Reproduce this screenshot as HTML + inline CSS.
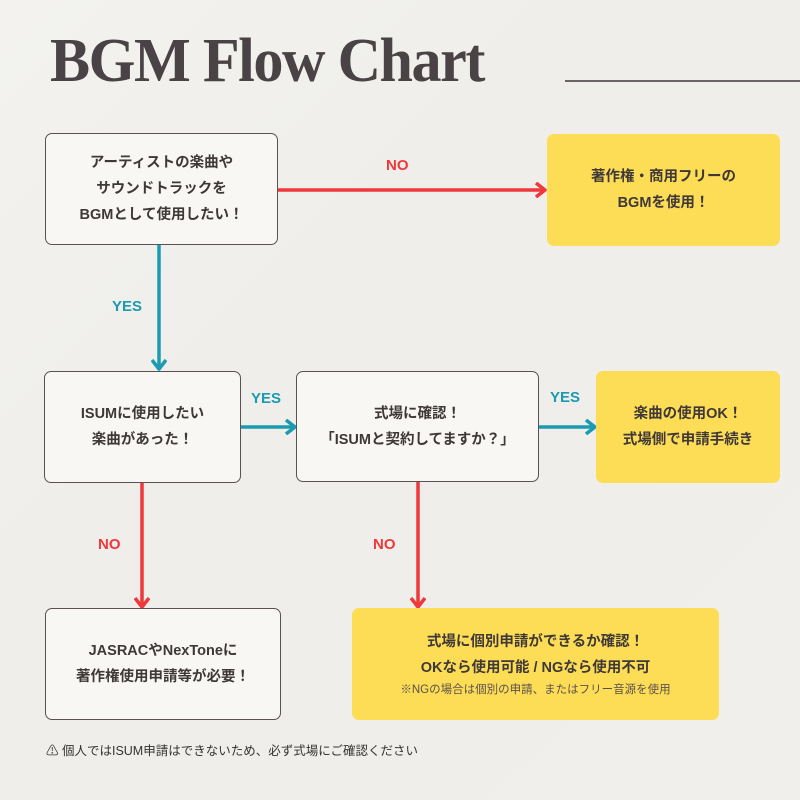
<!DOCTYPE html>
<html><head><meta charset="utf-8"><style>
body{margin:0;width:800px;height:800px;overflow:hidden;background:linear-gradient(135deg,#f3f2ef 0%,#efeeea 40%,#f1efeb 100%);font-family:"Liberation Sans","Noto Sans CJK JP",sans-serif;position:relative}
.t{position:absolute;left:50px;top:26px;font-family:"Liberation Serif",serif;font-weight:bold;font-size:62px;color:#4a4345;letter-spacing:-1.5px;transform:scaleX(0.97);transform-origin:left}
.hl{position:absolute;left:565px;top:80px;width:235px;height:1.5px;background:#6a6466}
.b{position:absolute;box-sizing:border-box;display:flex;align-items:center;justify-content:center;text-align:center;font-weight:bold;font-size:14.5px;line-height:26px;color:#3e3838;border-radius:7px}
.w{background:#f8f7f3;border:1.2px solid #5a5252}
.y{background:#fddd55}
.l{position:absolute;font-weight:bold;font-size:15px}
.r{color:#f0383a}.g{color:#1a9bb0}
svg{position:absolute;left:0;top:0}
</style></head><body>
<div class="t">BGM Flow Chart</div><div class="hl"></div>
<svg width="800" height="800">
<defs>
<marker id="mr" markerWidth="12" markerHeight="16" refX="10" refY="8" orient="auto" markerUnits="userSpaceOnUse"><path d="M1,1 L10,8 L1,15" fill="none" stroke="#f0383a" stroke-width="3.5" stroke-linejoin="round"/></marker>
<marker id="mg" markerWidth="12" markerHeight="16" refX="10" refY="8" orient="auto" markerUnits="userSpaceOnUse"><path d="M1,1 L10,8 L1,15" fill="none" stroke="#1a9bb0" stroke-width="3.5" stroke-linejoin="round"/></marker>
</defs>
<g stroke-width="3.5">
<line x1="278" y1="190" x2="545" y2="190" stroke="#f0383a" marker-end="url(#mr)"/>
<line x1="159" y1="245" x2="159" y2="369" stroke="#1a9bb0" marker-end="url(#mg)"/>
<line x1="241" y1="427" x2="295" y2="427" stroke="#1a9bb0" marker-end="url(#mg)"/>
<line x1="539" y1="427" x2="595" y2="427" stroke="#1a9bb0" marker-end="url(#mg)"/>
<line x1="142" y1="483" x2="142" y2="607" stroke="#f0383a" marker-end="url(#mr)"/>
<line x1="418" y1="482" x2="418" y2="607" stroke="#f0383a" marker-end="url(#mr)"/>
</g></svg>
<div class="b w" style="left:45px;top:133px;width:233px;height:112px">アーティストの楽曲や<br>サウンドトラックを<br>BGMとして使用したい！</div>
<div class="b y" style="left:547px;top:134px;width:233px;height:112px">著作権・商用フリーの<br>BGMを使用！</div>
<div class="b w" style="left:44px;top:371px;width:197px;height:112px">ISUMに使用したい<br>楽曲があった！</div>
<div class="b w" style="left:296px;top:371px;width:243px;height:111px">式場に確認！<br>「ISUMと契約してますか？」</div>
<div class="b y" style="left:596px;top:371px;width:184px;height:112px">楽曲の使用OK！<br>式場側で申請手続き</div>
<div class="b w" style="left:45px;top:608px;width:236px;height:112px">JASRACやNexToneに<br>著作権使用申請等が必要！</div>
<div class="b y" style="left:352px;top:608px;width:367px;height:112px;flex-direction:column"><div>式場に個別申請ができるか確認！<br>OKなら使用可能 / NGなら使用不可</div><div style="font-weight:normal;font-size:11.5px;line-height:18px;color:#5a5050">※NGの場合は個別の申請、またはフリー音源を使用</div></div>
<div class="l r" style="left:386px;top:157px">NO</div>
<div class="l g" style="left:112px;top:298px">YES</div>
<div class="l g" style="left:251px;top:390px">YES</div>
<div class="l g" style="left:550px;top:389px">YES</div>
<div class="l r" style="left:98px;top:536px">NO</div>
<div class="l r" style="left:373px;top:536px">NO</div>
<div style="position:absolute;left:46px;top:740px;font-size:12.5px;color:#333">⚠ 個人ではISUM申請はできないため、必ず式場にご確認ください</div>
</body></html>
